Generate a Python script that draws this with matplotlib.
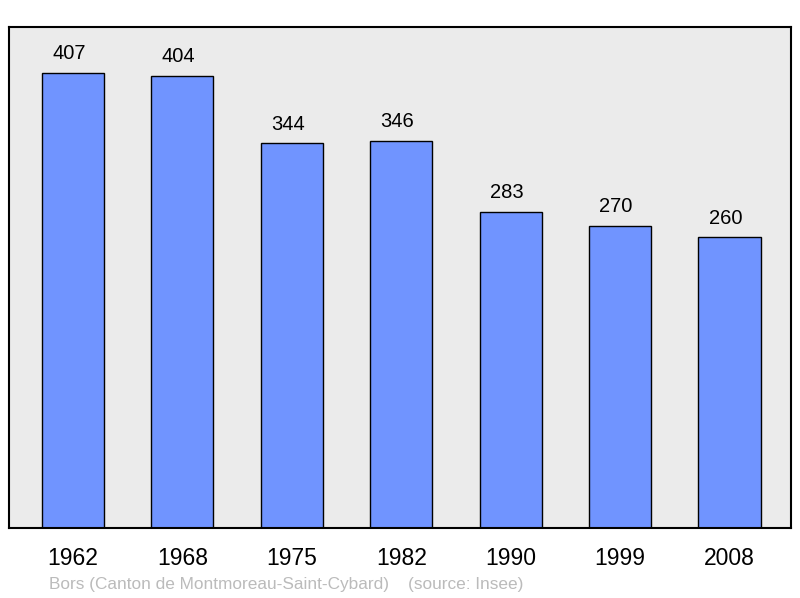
import matplotlib.pyplot as plt

plt.rcParams['font.family'] = ['Liberation Sans', 'DejaVu Sans']

years = ["1962", "1968", "1975", "1982", "1990", "1999", "2008"]
population = [407, 404, 344, 346, 283, 270, 260]
footer = "Bors (Canton de Montmoreau-Saint-Cybard)    (source: Insee)"

fig = plt.figure(figsize=(8, 5.98), dpi=100)
ax = fig.add_axes([9 / 800, 1 - 528 / 598, 782 / 800, 501 / 598])
ax.set_facecolor("#EBEBEB")

x = list(range(len(years)))
bars = ax.bar(x, population, width=0.567, color="#7094FF",
              edgecolor="black", linewidth=1.0, zorder=2)

for xi, val in zip(x, population):
    ax.annotate(str(val), (xi, val), xytext=(-3, 7), textcoords="offset points",
                ha="center", va="bottom", fontsize=14.5)

ax.set_xlim(-0.585, 6.562)
ax.set_ylim(0, 448)
ax.set_xticks(x)
ax.set_xticklabels(years, fontsize=16.5)
ax.tick_params(axis="x", length=0, pad=14)
ax.set_yticks([])
for spine in ax.spines.values():
    spine.set_linewidth(1.5)

fig.text(49 / 800, 1 - 584 / 598, footer, color="#BBBBBB", fontsize=12.4,
         ha="left", va="center")

fig.savefig("out.png", dpi=100)
